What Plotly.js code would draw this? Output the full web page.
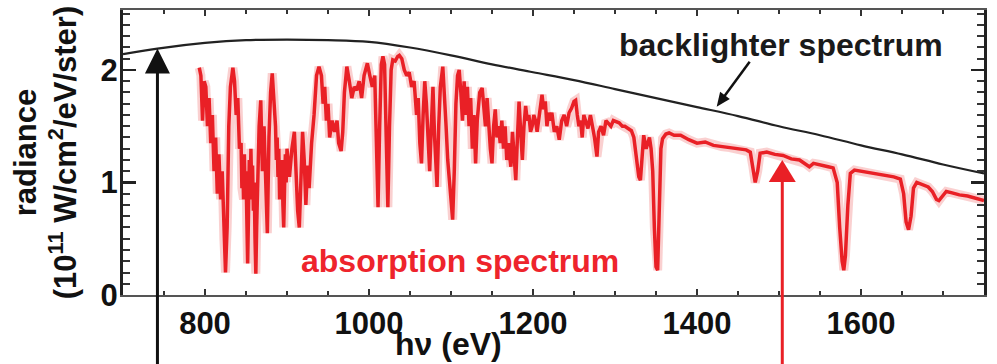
<!DOCTYPE html>
<html><head><meta charset="utf-8">
<script src="https://cdn.plot.ly/plotly-3.0.1.min.js"></script>
<style>html,body{margin:0;padding:0;background:#fff}</style>
</head><body><div id="chart" style="width:997px;height:364px"></div>
<script>
const energy_eV = [793,795,797,799,801,803,805,807,809,811,813,815,817,819,821,823,825,827,829,831,834,836,838,840,842,844,845,846,847,848,849,850,851,852,853,854,855,856,857,858,859,860,861,862,863,864,865,866,868,870,872,874,876,878,880,882,884,886,887,888,889,890,891,892,893,894,895,896,897,898,899,900,903,906,909,911,913,915,917,919,921,923,925,927,930,933,936,939,942,944,946,948,950,952,955,958,961,963,966,968,970,973,976,979,982,985,988,991,994,998,1001,1004,1007,1009,1011,1013,1015,1017,1019,1021,1023,1025,1027,1029,1032,1035,1037,1040,1043,1046,1049,1052,1055,1058,1060,1062,1064,1066,1068,1070,1072,1074,1076,1078,1080,1083,1085,1087,1090,1092,1094,1096,1098,1100,1102,1104,1106,1108,1110,1112,1114,1116,1118,1120,1122,1124,1126,1128,1130,1132,1135,1138,1140,1142,1144,1146,1148,1150,1152,1154,1156,1158,1160,1162,1164,1166,1168,1170,1173,1175,1177,1179,1181,1183,1185,1187,1189,1191,1193,1195,1197,1199,1201,1203,1205,1208,1211,1213,1215,1217,1219,1221,1223,1226,1229,1232,1235,1238,1241,1244,1247,1250,1252,1254,1256,1258,1260,1262,1264,1267,1270,1273,1275,1278,1280,1283,1286,1289,1292,1295,1298,1301,1305,1309,1312,1316,1320,1323,1326,1329,1331,1333,1335,1338,1340,1342,1344,1346,1348,1350,1352,1354,1356,1358,1362,1366,1372,1380,1390,1400,1410,1420,1430,1440,1450,1460,1465,1468,1471,1474,1477,1485,1495,1505,1515,1525,1532,1537,1542,1550,1560,1566,1571,1574,1577,1579,1581,1584,1587,1592,1600,1610,1620,1630,1640,1648,1652,1655,1658,1661,1664,1668,1675,1682,1687,1692,1695,1699,1704,1710,1720,1730,1740,1750];
const absorption = [2.02,1.95,1.55,1.9,1.85,1.5,1.75,1.35,1.6,1.1,1.4,0.9,1.25,0.85,1.1,0.5,0.2,0.6,1.5,1.85,2.02,1.9,1.6,1.75,1.3,1.35,0.95,1.2,0.85,1.25,0.9,1.1,0.6,0.28,0.7,1.2,0.85,1.3,0.9,1.15,0.75,1.0,0.5,0.19,0.6,1.0,1.3,1.5,1.73,1.1,1.5,0.9,0.55,1.4,1.8,1.97,1.75,1.5,1.2,1.4,1.05,1.3,0.85,1.15,0.9,1.2,0.8,0.6,0.95,1.25,1.0,1.3,1.05,1.3,1.45,1.1,0.75,0.6,1.0,1.45,1.2,0.8,1.15,0.95,1.35,1.6,1.95,2.03,1.95,1.7,1.85,1.55,1.7,1.4,1.55,1.45,1.55,1.35,1.28,1.45,1.8,2.03,1.9,1.75,1.85,1.82,1.9,1.75,1.95,2.06,1.95,1.85,1.95,1.4,0.78,1.5,2.05,2.12,2.05,1.4,0.78,1.5,2.0,2.09,2.08,2.12,2.13,2.1,2.0,1.95,1.98,1.85,1.9,1.6,1.75,1.35,1.17,1.6,1.9,1.7,1.4,1.1,1.5,1.85,1.4,0.96,1.5,1.85,2.03,1.8,1.5,1.2,1.0,0.8,0.67,1.1,1.7,1.95,2.0,1.8,1.55,1.9,1.6,1.85,1.5,1.75,1.3,1.6,1.17,1.55,1.8,1.84,1.7,1.5,1.75,1.45,1.3,1.17,1.5,1.65,1.4,1.5,1.35,1.55,1.3,1.5,1.2,1.35,1.14,1.45,1.2,1.02,1.4,1.72,1.45,1.2,1.5,1.68,1.55,1.6,1.45,1.5,1.6,1.55,1.45,1.65,1.78,1.65,1.72,1.5,1.62,1.55,1.62,1.45,1.5,1.38,1.55,1.6,1.5,1.62,1.66,1.72,1.73,1.6,1.5,1.55,1.4,1.6,1.55,1.48,1.6,1.5,1.4,1.23,1.45,1.5,1.42,1.55,1.53,1.5,1.55,1.54,1.53,1.5,1.5,1.48,1.46,1.4,1.2,1.05,1.02,1.2,1.42,1.3,1.35,1.4,1.3,1.1,0.6,0.25,0.22,0.7,1.3,1.39,1.43,1.44,1.42,1.42,1.38,1.35,1.36,1.33,1.32,1.31,1.3,1.29,1.27,1.15,1.0,1.1,1.26,1.27,1.25,1.24,1.21,1.2,1.17,1.14,1.17,1.16,1.14,1.13,1.0,0.6,0.3,0.22,0.35,0.8,1.08,1.11,1.1,1.09,1.08,1.07,1.05,1.03,0.9,0.65,0.58,0.7,0.95,1.0,0.98,0.96,0.92,0.85,0.84,0.88,0.92,0.91,0.89,0.88,0.86,0.84];
const backlighter_eV = [700,742,800,850,900,950,1000,1050,1100,1150,1200,1250,1300,1350,1400,1450,1500,1550,1600,1650,1700,1750];
const backlighter = [2.14,2.19,2.24,2.265,2.27,2.265,2.25,2.2,2.13,2.05,1.98,1.91,1.83,1.75,1.67,1.59,1.5,1.42,1.33,1.25,1.16,1.08];
const xTickVals = [800,1000,1200,1400,1600];
const yTickVals = [0,1,2];
const labelBacklighter = 'backlighter spectrum';
const labelAbsorption = 'absorption spectrum';
const xTitle = 'h\u03bd (eV)';
const yTitle = 'radiance<br>(10<sup>11</sup> W/cm<sup>2</sup>/eV/ster)';

const RED = 'rgb(233,32,38)';
const FONT = 'Liberation Sans, Arial, sans-serif';

// plot geometry (px) and axis ranges
const W = 997, Hh = 364;
const M = {l: 123, r: 13, t: 10, b: 69};
const PW = W - M.l - M.r, PH = Hh - M.t - M.b;
const XR = [700, 1750], YR = [0, 2.533];

function toPx(x, y) {
  return [M.l + (x - XR[0]) / (XR[1] - XR[0]) * PW, M.t + PH - (y - YR[0]) / (YR[1] - YR[0]) * PH];
}
function fromPx(px, py) {
  return [XR[0] + (px - M.l) / PW * (XR[1] - XR[0]), (M.t + PH - py) / PH];
}
// arrow: tip in data units, tail as pixel offset from the tip
function arrowShapes(tipX, tipY, dx, dy, headLen, headW, lw, color) {
  const [tx, ty] = toPx(tipX, tipY);
  const len = Math.hypot(dx, dy), ux = dx / len, uy = dy / len;
  const bx = tx + ux * headLen, by = ty + uy * headLen;
  const nx = -uy, ny = ux;
  const p1 = fromPx(tx, ty), p2 = fromPx(bx + nx * headW / 2, by + ny * headW / 2), p3 = fromPx(bx - nx * headW / 2, by - ny * headW / 2);
  const s0 = fromPx(bx - ux * 2, by - uy * 2), s1 = fromPx(tx + dx, ty + dy);
  return [
    {type: 'line', xref: 'x', yref: 'paper', x0: s0[0], y0: s0[1], x1: s1[0], y1: s1[1], line: {color: color, width: lw}},
    {type: 'path', xref: 'x', yref: 'paper', path: `M${p1[0]},${p1[1]} L${p2[0]},${p2[1]} L${p3[0]},${p3[1]} Z`, fillcolor: color, line: {width: 0}}
  ];
}

const traces = [
  {x: energy_eV, y: absorption, type: 'scatter', mode: 'lines', line: {color: 'rgba(240,110,110,0.32)', width: 9}, hoverinfo: 'skip', showlegend: false},
  {x: energy_eV, y: absorption, type: 'scatter', mode: 'lines', name: labelAbsorption, line: {color: RED, width: 3.5}, showlegend: false},
  {x: backlighter_eV, y: backlighter, type: 'scatter', mode: 'lines', name: labelBacklighter, line: {color: '#222', width: 2.2, shape: 'spline'}, showlegend: false}
];

const layout = {
  width: W, height: Hh,
  margin: M,
  paper_bgcolor: '#fff', plot_bgcolor: '#fff',
  font: {family: FONT, color: '#111'},
  xaxis: {
    range: XR, tickvals: xTickVals, ticks: 'inside', ticklen: 6, tickwidth: 2, tickcolor: '#333',
    minor: {dtick: 50, tick0: 0, ticks: 'inside', ticklen: 4, tickwidth: 2, tickcolor: '#333'},
    showgrid: false, zeroline: false, showline: true, linecolor: '#555', linewidth: 2, mirror: 'ticks',
    tickfont: {family: FONT, size: 31, weight: 'bold', color: '#111'}
  },
  yaxis: {
    range: YR, tickvals: yTickVals, ticks: 'inside', ticklen: 13, tickwidth: 2.5, tickcolor: '#222',
    minor: {dtick: 0.1, tick0: 0, ticks: 'inside', ticklen: 7, tickwidth: 2, tickcolor: '#333'},
    showgrid: false, zeroline: false, showline: true, linecolor: '#222', linewidth: 3, mirror: 'ticks',
    tickfont: {family: FONT, size: 31, weight: 'bold', color: '#111'}, ticklabelstandoff: -4,
    title: {text: yTitle, font: {family: FONT, size: 31, weight: 'bold', color: '#111'}, standoff: 15}
  },
  annotations: [
    {xref: 'paper', yref: 'paper', x: 0.3775, y: -0.172, xanchor: 'center', yanchor: 'middle', showarrow: false,
     text: xTitle, font: {family: FONT, size: 32, weight: 'bold', color: '#111'}},
    {xref: 'paper', yref: 'paper', x: 0.764, y: 0.877, xanchor: 'center', yanchor: 'middle', showarrow: false,
     text: labelBacklighter, font: {family: FONT, size: 32, weight: 'bold', color: '#1a1a1a'}},
    {xref: 'paper', yref: 'paper', x: 0.391, y: 0.118, xanchor: 'center', yanchor: 'middle', showarrow: false,
     text: labelAbsorption, font: {family: FONT, size: 32, weight: 'bold', color: 'rgb(238,36,44)'}}
  ],
  shapes: [].concat(
    arrowShapes(1424, 1.674, 33, -45, 14, 12, 2.5, '#111'),
    arrowShapes(742, 2.19, 0, 340, 25, 25, 3, '#111'),
    arrowShapes(1504, 1.2, 0, 230, 22, 27, 3, RED)
  )
};

Plotly.newPlot('chart', traces, layout, {displayModeBar: false, staticPlot: true});
</script>
</body></html>
